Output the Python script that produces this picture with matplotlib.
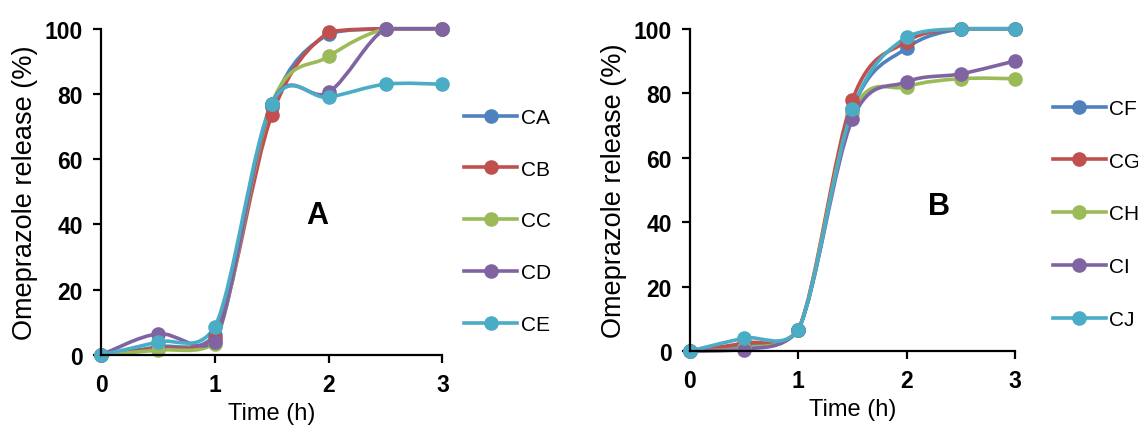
import numpy as np
import matplotlib.pyplot as plt
from matplotlib.path import Path
from matplotlib.patches import PathPatch
from matplotlib.lines import Line2D

time_h = [0, 0.5, 1, 1.5, 2, 2.5, 3]

# panel A
labels_a = ["CA", "CB", "CC", "CD", "CE"]
ca = [0, 2.5, 6, 76, 98.5, 100, 100]
cb = [0, 2, 5, 73.5, 99, 100, 100]
cc = [0, 1.5, 3.5, 77, 91.5, 100, 100]
cd = [0, 6.5, 4, 77, 80.5, 100, 100]
ce = [0, 4, 8.5, 77, 79, 83, 83]

# panel B
labels_b = ["CF", "CG", "CH", "CI", "CJ"]
cf = [0, 2, 6.5, 75, 94, 100, 100]
cg = [0, 2.5, 6.5, 78, 96, 100, 100]
ch = [0, 1, 6.5, 74, 82, 84.5, 84.5]
ci = [0, 0.5, 6.5, 72, 83.5, 86, 90]
cj = [0, 4, 6.5, 75, 97.5, 100, 100]

colors = ["#4F81BD", "#C0504D", "#9BBB59", "#8064A2", "#4BACC6"]

plt.rcParams["font.family"] = ["Liberation Sans", "DejaVu Sans"]


def smooth_path(x, y):
    # excel-like smoothed line, cubic bezier segments, control points kept in 0..100
    pts = np.column_stack([x, y]).astype(float)
    verts = [pts[0]]
    codes = [Path.MOVETO]
    n = len(pts)
    for i in range(n - 1):
        p0 = pts[i - 1] if i > 0 else pts[i]
        p1 = pts[i]
        p2 = pts[i + 1]
        p3 = pts[i + 2] if i + 2 < n else pts[i + 1]
        c1 = p1 + (p2 - p0) / 6
        c2 = p2 - (p3 - p1) / 6
        c1[1] = min(max(c1[1], 0), 100)
        c2[1] = min(max(c2[1], 0), 100)
        verts += [c1, c2, p2]
        codes += [Path.CURVE4] * 3
    return Path(verts, codes)


def panel(ax, series, labels, letter, letter_xy, leg_anchor, leg_space):
    for vals, col in zip(series, colors):
        ax.add_patch(PathPatch(smooth_path(time_h, vals), fill=False,
                               edgecolor=col, lw=2.6, clip_on=False))
        ax.plot(time_h, vals, ls="none", marker="o", ms=9.5, color=col,
                clip_on=False)
    ax.set_xlim(0, 3)
    ax.set_ylim(0, 100)
    ax.set_xticks([0, 1, 2, 3])
    ax.set_yticks([0, 20, 40, 60, 80, 100])
    ax.spines["top"].set_visible(False)
    ax.spines["right"].set_visible(False)
    ax.spines["left"].set_linewidth(1.6)
    ax.spines["bottom"].set_linewidth(1.6)
    ax.tick_params(direction="out", length=6, width=1.6, pad=7)
    for t in ax.get_xticklabels() + ax.get_yticklabels():
        t.set_fontsize(16.5)
        t.set_fontweight("bold")
    ax.set_xlabel("Time (h)", fontsize=17, labelpad=4)
    ax.set_ylabel("Omeprazole release (%)", fontsize=19.5, labelpad=5)
    ax.text(letter_xy[0], letter_xy[1], letter, fontsize=22, fontweight="bold",
            transform=ax.transData, ha="center", va="center")
    handles = [Line2D([], [], color=c, lw=2.6, marker="o", ms=9.5) for c in colors]
    leg = ax.legend(handles, labels, loc="upper left", bbox_to_anchor=leg_anchor,
                    bbox_transform=ax.figure.transFigure, frameon=False,
                    prop={"size": 15}, handlelength=2.55, handletextpad=0.15,
                    labelspacing=leg_space, borderpad=0, borderaxespad=0)
    return leg


fig = plt.figure(figsize=(11.38, 4.31), dpi=100)
ax1 = fig.add_axes([0.0888, 0.174, 0.300, 0.757])
ax2 = fig.add_axes([0.6063, 0.183, 0.2856, 0.748])

panel(ax1, [ca, cb, cc, cd, ce], labels_a, "A", (1.9, 43), (0.408, 0.747), 1.57)
panel(ax2, [cf, cg, ch, ci, cj], labels_b, "B", (2.3, 45), (0.925, 0.768), 1.62)

fig.savefig("out.png", dpi=100)
